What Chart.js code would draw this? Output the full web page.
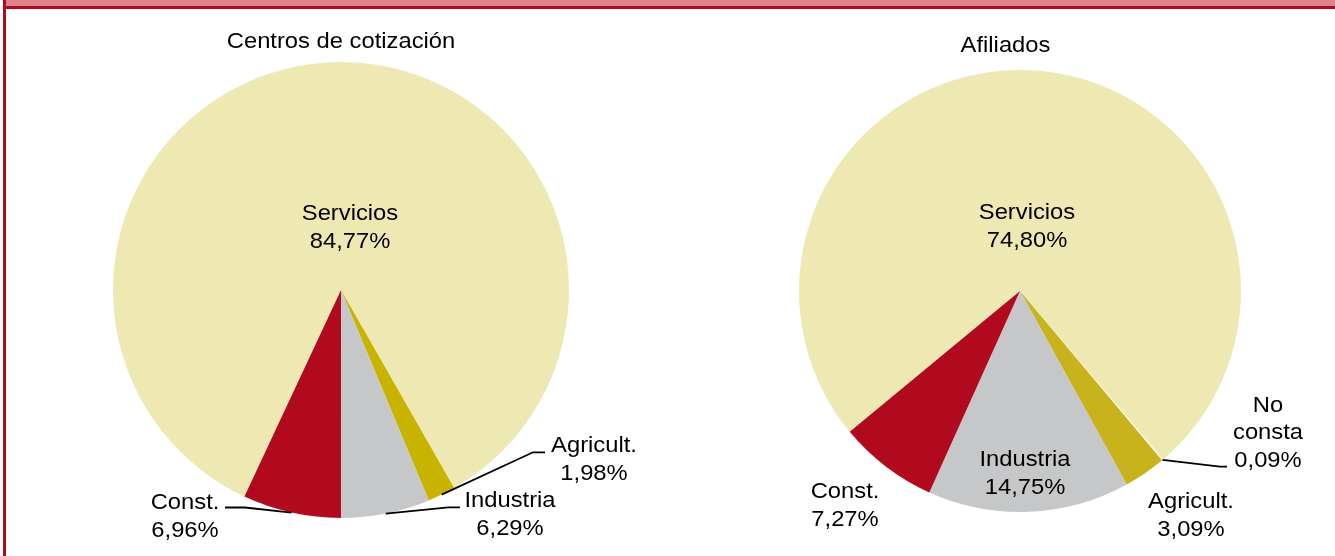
<!DOCTYPE html>
<html>
<head>
<meta charset="utf-8">
<script src="https://cdn.jsdelivr.net/npm/chart.js@4/dist/chart.umd.min.js"></script>
<style>
	body { margin:0; background:#fff; width:1335px; height:556px; overflow:hidden; position:relative; }
	#banda { position:absolute; left:6px; top:0; width:1329px; height:6px; background:#DD848D; }
	#linea { position:absolute; left:6px; top:6px; width:1329px; height:3px; background:#B10A1F; }
	#borde { position:absolute; left:3px; top:0; width:3px; height:556px; background:#B10A1F; }
	canvas { position:absolute; top:9px; }
	#grafico1 { left:6px; }
	#grafico2 { left:670px; }
</style>
</head>
<body>
<div id="banda"></div>
<div id="linea"></div>
<div id="borde"></div>
<canvas id="grafico1" width="664" height="547"></canvas>
<canvas id="grafico2" width="665" height="547"></canvas>
<script>
	// datos
	const titulos = ['Centros de cotización', 'Afiliados'];
	const categoriasCentros = ['Servicios', 'Agricult.', 'Industria', 'Const.'];
	const valoresCentros = [84.77, 1.98, 6.29, 6.96];
	const categoriasAfiliados = ['Servicios', 'No consta', 'Agricult.', 'Industria', 'Const.'];
	const valoresAfiliados = [74.80, 0.09, 3.09, 14.75, 7.27];

	function formato(v){
		return v.toFixed(2).replace('.', ',') + '%';
	}

	function texto(ctx, s, x, y){
		ctx.save();
		ctx.translate(x, y);
		ctx.scale(1.08, 1);
		ctx.fillText(s, 0, 0);
		ctx.restore();
	}

	// etiquetas y lineas guia
	const etiquetas = {
		id: 'etiquetas',
		afterDatasetsDraw(chart, args, opts){
			const ctx = chart.ctx;
			const meta = chart.getDatasetMeta(0);
			const valores = chart.data.datasets[0].data;
			const cx = meta.data[0].x, cy = meta.data[0].y;
			ctx.save();
			ctx.fillStyle = '#000';
			ctx.strokeStyle = '#000';
			ctx.lineWidth = 1.8;
			ctx.font = '22px "Liberation Sans", Arial, sans-serif';
			ctx.textAlign = 'center';
			ctx.textBaseline = 'alphabetic';
			texto(ctx, opts.titulo, cx + opts.posTitulo[0], cy + opts.posTitulo[1]);
			opts.sectores.forEach(function(cfg, i){
				const arco = meta.data[i];
				const nombre = chart.data.labels[i];
				const lineas = cfg.partir ? nombre.split(' ') : [nombre];
				lineas.push(formato(valores[i]));
				lineas.forEach(function(l, j){
					texto(ctx, l, cx + cfg.pos[0], cy + cfg.pos[1] + j * opts.alto);
				});
				if (cfg.guia){
					const medio = (arco.startAngle + arco.endAngle) / 2;
					ctx.beginPath();
					ctx.moveTo(cx + Math.cos(medio) * arco.outerRadius, cy + Math.sin(medio) * arco.outerRadius);
					cfg.guia.forEach(function(p){ ctx.lineTo(cx + p[0], cy + p[1]); });
					ctx.stroke();
				}
			});
			ctx.restore();
		}
	};

	function crearTorta(id, categorias, valores, colores, rotacion, radio, padding, opcionesEtiquetas){
		var ctx = document.getElementById(id).getContext('2d');
		new Chart(ctx, {
			type: 'pie',
			data: {
				labels: categorias,
				datasets: [{
					data: valores,
					backgroundColor: colores,
					borderWidth: 0,
					hoverOffset: 0,
					offset: 0
				}]
			},
			options: {
				responsive: false,
				animation: false,
				events: [],
				devicePixelRatio: 1,
				rotation: rotacion,
				radius: radio,
				layout: { padding: padding },
				plugins: {
					legend: { display: false },
					tooltip: { enabled: false },
					title: { display: false },
					etiquetas: opcionesEtiquetas
				}
			},
			plugins: [etiquetas]
		});
	}

	crearTorta('grafico1', categoriasCentros, valoresCentros,
		['#EEE8B3', '#C8B400', '#C6C7C8', '#B10A1F'],
		205.06, 228,
		{ left: 107, right: 101, top: 53, bottom: 38 },
		{
			titulo: titulos[0], posTitulo: [0, -242], alto: 28,
			sectores: [
				{ pos: [9, -70] },
				{ pos: [253, 161.7], guia: [[192, 162.3], [204, 162.3]] },
				{ pos: [169, 217.3], guia: [[107.3, 217.3], [119, 217.3]] },
				{ pos: [-156, 219], guia: [[-96, 217.5], [-116, 217.5]] }
			]
		});

	crearTorta('grafico2', categoriasAfiliados, valoresAfiliados,
		['#EEE8B3', '#FFFFFF', '#C9B31C', '#C6C7C8', '#B10A1F'],
		230.4, 221,
		{ left: 129, right: 94, top: 61, bottom: 44 },
		{
			titulo: titulos[1], posTitulo: [-14.5, -239], alto: 27.6,
			sectores: [
				{ pos: [7, -72] },
				{ pos: [248, 120.7], partir: true, guia: [[200, 175.7], [207, 175.7]] },
				{ pos: [171, 217.3] },
				{ pos: [5, 175] },
				{ pos: [-175, 207] }
			]
		});
</script>
</body>
</html>
